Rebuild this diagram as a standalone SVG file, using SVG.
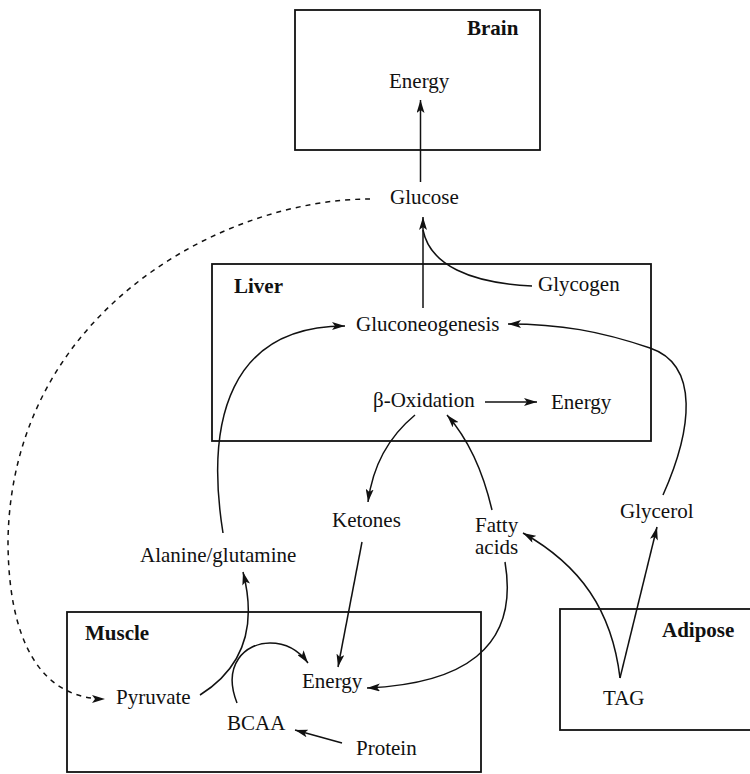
<svg xmlns="http://www.w3.org/2000/svg" width="750" height="774" viewBox="0 0 750 774">
<style>
text{font-family:"Liberation Serif","Times New Roman",serif;font-size:21px;fill:#111}
.b{font-weight:bold}
.box{fill:none;stroke:#111;stroke-width:1.8}
.c{fill:none;stroke:#111;stroke-width:1.5}
.a{marker-end:url(#ah)}
.d{stroke-dasharray:5,5}
</style>
<defs>
<marker id="ah" markerUnits="userSpaceOnUse" markerWidth="14" markerHeight="8" refX="13" refY="4" orient="auto">
<path d="M0,0 L13,4 L0,8 L3,4 z" fill="#111"/>
</marker>
</defs>
<rect width="750" height="774" fill="#fff"/>
<g id="brain"><rect class="box" x="295" y="10" width="245" height="140"/><text class="b" x="467" y="35">Brain</text></g>
<g id="liver"><rect class="box" x="212" y="264" width="439" height="177"/><text class="b" x="234" y="293">Liver</text></g>
<g id="muscle"><rect class="box" x="67" y="612" width="414" height="160"/><text class="b" x="85" y="640">Muscle</text></g>
<g id="adipose"><rect class="box" x="560" y="609" width="200" height="121"/><text class="b" x="662" y="637">Adipose</text></g>
<g id="brain-energy"><text x="389" y="88">Energy</text></g>
<g id="glucose"><text x="390" y="204">Glucose</text></g>
<g id="glycogen"><text x="538" y="291">Glycogen</text></g>
<g id="gluconeogenesis"><text x="356" y="331">Gluconeogenesis</text></g>
<g id="beta-oxidation"><text x="373" y="407">β-Oxidation</text></g>
<g id="liver-energy"><text x="551" y="409">Energy</text></g>
<g id="ketones"><text x="332" y="527">Ketones</text></g>
<g id="fatty-acids"><text x="475" y="532">Fatty</text><text x="475" y="554">acids</text></g>
<g id="glycerol"><text x="620" y="518">Glycerol</text></g>
<g id="alanine"><text x="140" y="562">Alanine/glutamine</text></g>
<g id="muscle-energy"><text x="302" y="688">Energy</text></g>
<g id="pyruvate"><text x="116" y="704">Pyruvate</text></g>
<g id="bcaa"><text x="227" y="730">BCAA</text></g>
<g id="protein"><text x="356" y="755">Protein</text></g>
<g id="tag"><text x="603" y="705">TAG</text></g>
<g id="connectors">
<path class="c a" d="M420.5,182 L420.5,100"/>
<path class="c a" d="M423,308 L423,217"/>
<path class="c" d="M532,286 C470,283 430,265 423,230"/>
<path class="c d a" d="M370,199 C225,199 12,310 8,540 C8,640 40,699 105,699"/>
<path class="c a" d="M223,533 C205,420 230,326 345,326"/>
<path class="c a" d="M663,495 C692,430 700,365 650,348 C600,331 560,324 508,324"/>
<path class="c a" d="M485,402 L537,402"/>
<path class="c a" d="M415,415 Q375,448 368,502"/>
<path class="c a" d="M492,510 Q478,450 447,415"/>
<path class="c a" d="M362,542 L338,667"/>
<path class="c a" d="M505,562 C520,650 460,684 367,688"/>
<path class="c a" d="M200,695 C240,670 258,630 243,572"/>
<path class="c a" d="M237,703 C222,665 245,643 270,643 C288,643 300,652 308,663"/>
<path class="c a" d="M342,743 L295,730"/>
<path class="c a" d="M620,678 C612,610 580,565 523,533"/>
<path class="c a" d="M620,678 L657,527"/>
</g>
</svg>
